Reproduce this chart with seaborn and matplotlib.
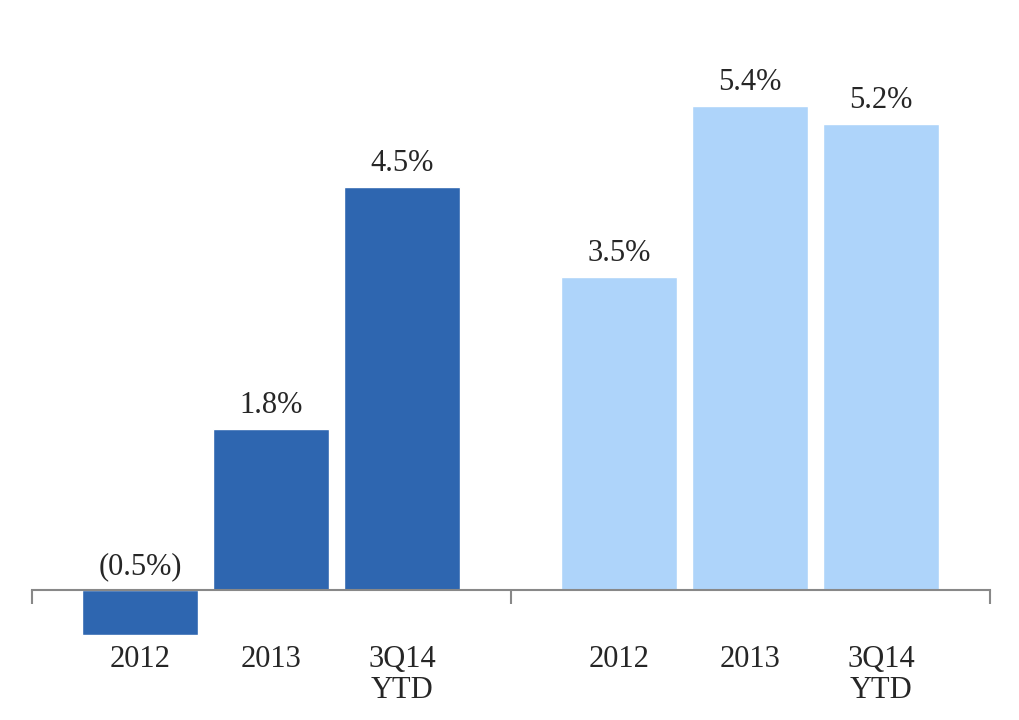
import pandas as pd
import seaborn as sns
import matplotlib.pyplot as plt
from matplotlib.transforms import blended_transform_factory

# Data
periods = ['2012', '2013', '3Q14\nYTD', '2012', '2013', '3Q14\nYTD']
values = [-0.5, 1.8, 4.5, 3.5, 5.4, 5.2]
groups = ['A', 'A', 'A', 'B', 'B', 'B']
positions = [0, 1, 2, 3.66, 4.66, 5.66]
labels = ['(0.5%)', '1.8%', '4.5%', '3.5%', '5.4%', '5.2%']

df = pd.DataFrame({'pos': positions, 'value': values, 'group': groups})

sns.set_style('white')
plt.rcParams['font.family'] = ['Liberation Serif', 'DejaVu Serif']

fig = plt.figure(figsize=(10.2, 7.2), dpi=100)
ax = fig.add_axes([32 / 1020, 80 / 720, 958 / 1020, 590 / 720])

sns.barplot(data=df, x='pos', y='value', hue='group', native_scale=True,
            palette={'A': '#2E66B0', 'B': '#AED4FA'}, width=0.885,
            dodge=False, legend=False, ax=ax, saturation=1)

ax.set_xlim(-0.824, 6.49)
ax.set_ylim(-0.558, 6.03)

for s in ['top', 'right', 'left']:
    ax.spines[s].set_visible(False)
ax.spines['bottom'].set_position(('data', 0))
ax.spines['bottom'].set_color('#888888')
ax.spines['bottom'].set_linewidth(1.5)
ax.set_yticks([])
ax.set_xticks([-0.824, 2.83, 6.49])
ax.set_xticklabels([])
ax.tick_params(axis='x', direction='out', length=10, width=1.5, color='#888888', bottom=True)
ax.set_xlabel('')
ax.set_ylabel('')

for p, v, lab in zip(positions, values, labels):
    y = max(v, 0) + 0.1
    ax.text(p, y, lab, ha='center', va='bottom', fontsize=22)

trans = blended_transform_factory(ax.transData, fig.transFigure)
for p, per in zip(positions, periods):
    ax.text(p, 1 - 645 / 720, per, ha='center', va='top', fontsize=22,
            transform=trans, linespacing=1.1)

fig.savefig('out.png', dpi=100)
